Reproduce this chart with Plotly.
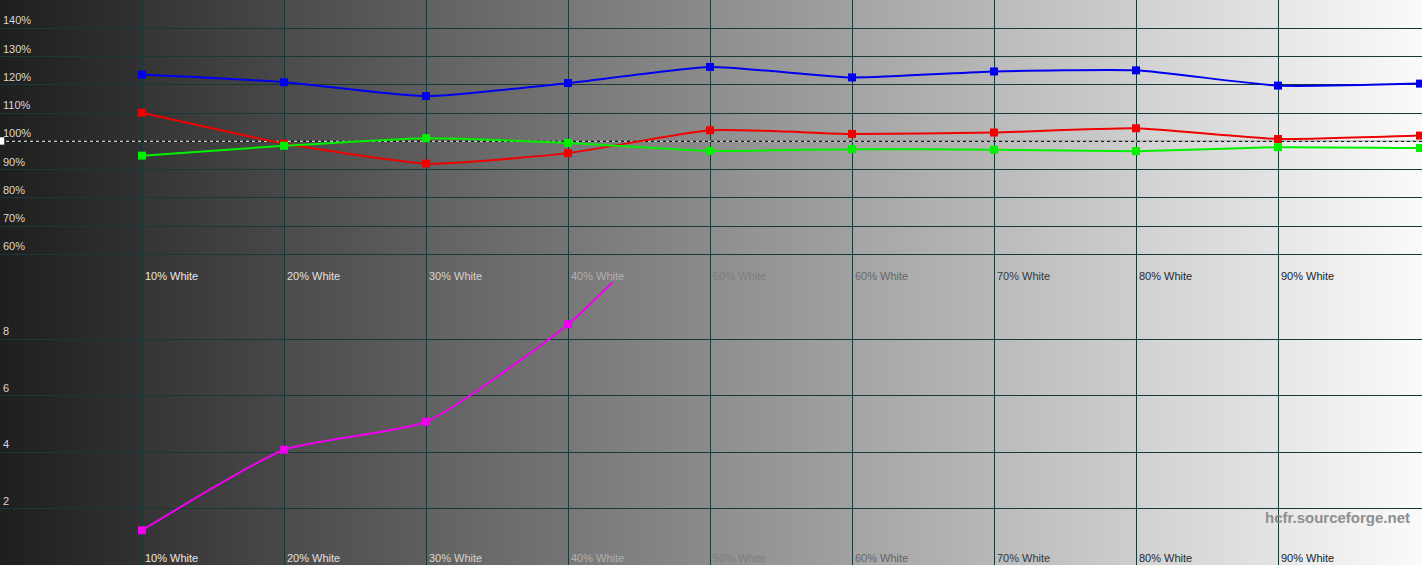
"""HCFR-style RGB levels + deltaE chart over a grey ramp (Plotly)."""

import base64
import struct
import zlib

import plotly.graph_objects as go

# --- data -----------------------------------------------------------------
levels = [10, 20, 30, 40, 50, 60, 70, 80, 90, 100]
level_labels = ["10% White", "20% White", "30% White", "40% White", "50% White",
                "60% White", "70% White", "80% White", "90% White"]
label_colors = ["#e8e8e8", "#e0e0e0", "#d4d4d4", "#b0b0b0", "#7e7e7e",
                "#666666", "#383838", "#2a2a2a", "#222222"]

red = [110.1, 99.2, 92.1, 95.8, 103.9, 102.6, 103.1, 104.6, 100.8, 102.0]
green = [94.9, 98.4, 101.1, 99.4, 96.6, 97.2, 97.0, 96.5, 97.9, 97.6]
blue = [123.6, 120.9, 116.0, 120.6, 126.3, 122.6, 124.7, 125.1, 119.7, 120.4]

delta_levels = [10, 20, 30, 40, 50]
delta_e = [1.23, 4.08, 5.07, 8.52, 13.5]

pct_ticks = [60, 70, 80, 90, 100, 110, 120, 130, 140]
de_ticks = [2, 4, 6, 8]

W, H = 1422, 571
GRID = "#17393a"
FONT = "Arial, Liberation Sans, sans-serif"


def ramp_png(width):
    """1px-high grey ramp, slightly stepped at every 10% band."""
    band = (width - 2) / 10.0
    row = bytearray([0])
    for x in range(width):
        i = min(int(x // band), 9)
        f = (x - i * band) / band
        row.append(max(0, min(255, int(31 + 22.3 * i + 19 * f))))
    raw = bytes(row)

    def chunk(tag, data):
        body = tag + data
        return struct.pack(">I", len(data)) + body + struct.pack(">I", zlib.crc32(body) & 0xFFFFFFFF)

    png = b"\x89PNG\r\n\x1a\n"
    png += chunk(b"IHDR", struct.pack(">IIBBBBB", width, 1, 8, 0, 0, 0, 0))
    png += chunk(b"IDAT", zlib.compress(raw))
    png += chunk(b"IEND", b"")
    return "data:image/png;base64," + base64.b64encode(png).decode()


fig = go.Figure()

marker = dict(symbol="square", size=8)
line_kw = dict(width=2, shape="spline", smoothing=0.5)
for vals, col in ((red, "#f00000"), (green, "#00f000"), (blue, "#0000f0")):
    fig.add_scatter(x=levels, y=vals, mode="lines+markers", xaxis="x", yaxis="y",
                    line=dict(color=col, **line_kw), marker=dict(color=col, **marker),
                    hoverinfo="skip")
fig.add_scatter(x=delta_levels, y=delta_e, mode="lines+markers", xaxis="x2", yaxis="y2",
                line=dict(color="#f000f0", **line_kw), marker=dict(color="#f000f0", **marker),
                hoverinfo="skip")

bottom = 3 / H
mid = bottom + (1 - bottom) / 2
xr = [0, 100.14]
xax = dict(range=xr, tickvals=[0, 10, 20, 30, 40, 50, 60, 70, 80, 90], showticklabels=False,
           showgrid=True, gridcolor=GRID, gridwidth=1, zeroline=False, ticks="", fixedrange=True)
yax = dict(showgrid=True, gridcolor=GRID, gridwidth=1, zeroline=False, ticks="",
           ticklabelposition="inside top", tickfont=dict(family=FONT, size=11, color="#d8d8d8"))

fig.update_layout(
    width=W, height=H,
    margin=dict(l=0, r=0, t=0, b=3, pad=0),
    paper_bgcolor="white",
    plot_bgcolor="rgba(0,0,0,0)",
    showlegend=False,
    xaxis=dict(domain=[0, 1], anchor="y", **xax),
    xaxis2=dict(domain=[0, 1], anchor="y2", **xax),
    yaxis=dict(domain=[mid, 1], range=[50, 150], anchor="x", tickvals=pct_ticks,
               ticktext=[f"{t}%" for t in pct_ticks], **yax),
    yaxis2=dict(domain=[bottom, mid], range=[0, 10], anchor="x2", tickvals=de_ticks,
                ticktext=[str(t) for t in de_ticks], **yax),
    images=[dict(source=ramp_png(W), xref="paper", yref="paper", x=0, y=1, sizex=1,
                 sizey=1 - bottom, xanchor="left", yanchor="top", sizing="stretch",
                 layer="below")],
)

# 100% reference: black/white dashed line + small white tab at the left edge
fig.add_shape(type="line", xref="x", yref="y", x0=xr[0], x1=xr[1], y0=100, y1=100,
              line=dict(color="#101010", width=1), layer="between")
fig.add_shape(type="line", xref="x", yref="y", x0=xr[0], x1=xr[1], y0=100, y1=100,
              line=dict(color="white", width=1, dash="3px,3px"), layer="between")
fig.add_shape(type="rect", xref="paper", yref="y", x0=0, x1=0.003, y0=98.8, y1=101.4,
              fillcolor="white", line=dict(width=0), layer="above")

for lvl, txt, col in zip(levels, level_labels, label_colors):
    for xa, ya, yv in (("x", "y", 52.4), ("x2", "y2", 0.24)):
        fig.add_annotation(x=lvl, y=yv, xref=xa, yref=ya, text=txt, showarrow=False,
                           xanchor="left", yanchor="middle", xshift=1,
                           font=dict(family=FONT, size=11, color=col))

fig.add_annotation(x=1412 / W, y=(H - 520) / H, xref="paper", yref="paper",
                   text="<b>hcfr.sourceforge.net</b>", showarrow=False,
                   xanchor="right", yanchor="middle",
                   font=dict(family=FONT, size=15, color="#8e8e8e"))

# the page's default 8px body margin would shift the fixed-size figure
fig.write_html("out.html", config={"displayModeBar": False},
               post_script="document.body.style.margin='0';")
